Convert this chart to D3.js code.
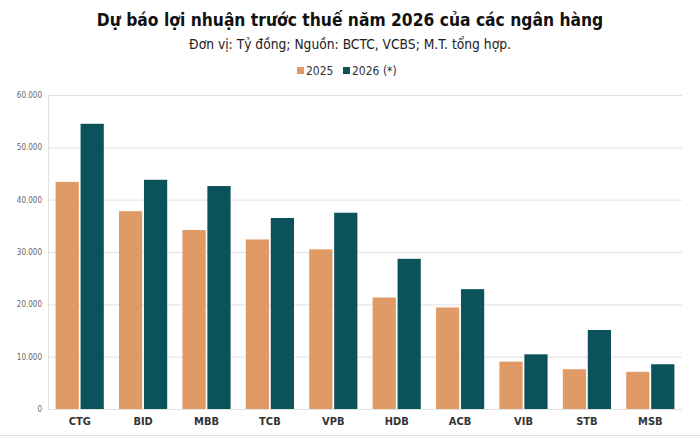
<!DOCTYPE html>
<html>
<head>
<meta charset="utf-8">
<script src="https://cdn.jsdelivr.net/npm/d3@7"></script>
<style>
  body { margin: 0; background: #fff; }
  svg { display: block; }
</style>
</head>
<body>
<div id="app"></div>
<script>
const banks = ["CTG", "BID", "MBB", "TCB", "VPB", "HDB", "ACB", "VIB", "STB", "MSB"];
const profit2025 = [43400, 37800, 34200, 32400, 30500, 21300, 19400, 9050, 7600, 7100];
const profit2026 = [54500, 43800, 42600, 36500, 37500, 28700, 22900, 10450, 15100, 8550];
const seriesNames = ["2025", "2026 (*)"];
const yTicks = [0, 10000, 20000, 30000, 40000, 50000, 60000];

const w = 700, h = 438;
const margin = { top: 95, right: 18, bottom: 29, left: 48 };
const colors = ["#E09A65", "#0B525B"];
const font = "Tahoma, 'DejaVu Sans Condensed', 'DejaVu Sans', sans-serif";

const svg = d3.select("#app")
    .append("svg")
    .attr("width", w)
    .attr("height", h)
    .style("font-family", font);

const xScale = d3.scaleBand()
    .domain(banks)
    .range([margin.left, w - margin.right])
    .paddingInner(0.24)
    .paddingOuter(0.12);

const xSub = d3.scaleBand()
    .domain([0, 1])
    .range([0, xScale.bandwidth()])
    .paddingInner(0.07);

const yScale = d3.scaleLinear()
    .domain([0, 60000])
    .range([h - margin.bottom, margin.top]);

// gridlines
svg.append("g")
    .selectAll("line")
    .data(yTicks)
    .enter()
    .append("line")
    .attr("x1", margin.left)
    .attr("x2", w - margin.right)
    .attr("y1", d => yScale(d) + 0.5)
    .attr("y2", d => yScale(d) + 0.5)
    .attr("stroke", "#e2e2e2");

svg.append("line")
    .attr("x1", margin.left + 0.5)
    .attr("x2", margin.left + 0.5)
    .attr("y1", yScale(60000))
    .attr("y2", yScale(0))
    .attr("stroke", "#e2e2e2");

const fmt = d => d3.format(",")(d).replace(/,/g, ".");
const yAxis = d3.axisLeft(yScale)
    .tickValues(yTicks)
    .tickFormat(fmt)
    .tickSize(0)
    .tickPadding(6);

svg.append("g")
    .attr("id", "y-axis")
    .attr("transform", `translate(${margin.left},0)`)
    .call(yAxis)
    .call(g => g.select(".domain").remove())
    .selectAll("text")
    .attr("fill", "#666")
    .style("font-size", "8px")
    .style("font-family", font);

const xAxis = d3.axisBottom(xScale).tickSize(0).tickPadding(8);
svg.append("g")
    .attr("id", "x-axis")
    .attr("transform", `translate(0,${h - margin.bottom})`)
    .call(xAxis)
    .call(g => g.select(".domain").remove())
    .selectAll("text")
    .attr("fill", "#333")
    .style("font-size", "11px")
    .style("font-weight", "bold")
    .style("font-family", font);

const groups = svg.selectAll(".bank")
    .data(banks)
    .enter()
    .append("g")
    .attr("class", "bank")
    .attr("transform", d => `translate(${xScale(d)},0)`);

groups.selectAll("rect")
    .data((d, i) => [profit2025[i], profit2026[i]])
    .enter()
    .append("rect")
    .attr("x", (d, j) => xSub(j))
    .attr("y", d => yScale(d))
    .attr("width", xSub.bandwidth())
    .attr("height", d => yScale(0) - yScale(d))
    .attr("fill", (d, j) => colors[j]);

// title
svg.append("text")
    .attr("x", w / 2)
    .attr("y", 26)
    .attr("text-anchor", "middle")
    .attr("fill", "#111")
    .style("font-size", "17.3px")
    .style("font-weight", "bold")
    .text("Dự báo lợi nhuận trước thuế năm 2026 của các ngân hàng");

svg.append("text")
    .attr("x", w / 2)
    .attr("y", 49)
    .attr("text-anchor", "middle")
    .attr("fill", "#222")
    .style("font-size", "13.7px")
    .text("Đơn vị: Tỷ đồng; Nguồn: BCTC, VCBS; M.T. tổng hợp.");

// legend
const legend = svg.append("g").attr("transform", "translate(297,71)");
seriesNames.forEach((name, i) => {
    const x = i === 0 ? 0 : 46;
    legend.append("rect")
        .attr("x", x)
        .attr("y", -4)
        .attr("width", 7)
        .attr("height", 7)
        .attr("fill", colors[i]);
    legend.append("text")
        .attr("x", x + 9)
        .attr("y", 4)
        .attr("fill", "#333")
        .style("font-size", "12px")
        .text(name);
});

svg.append("line")
    .attr("x1", 0)
    .attr("x2", w)
    .attr("y1", 435.5)
    .attr("y2", 435.5)
    .attr("stroke", "#ddd");
</script>
</body>
</html>
